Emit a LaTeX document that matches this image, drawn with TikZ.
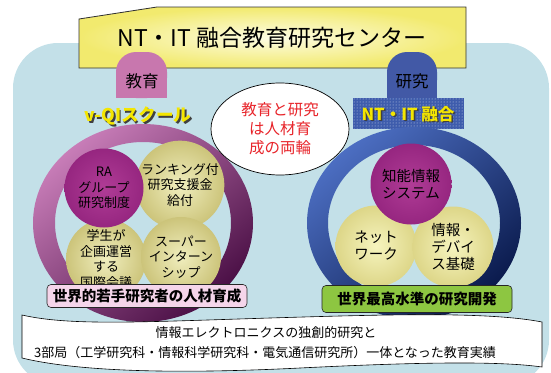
\documentclass[tikz,border=0pt]{standalone}
\usepackage{fontspec}
\setmainfont{Noto Sans CJK JP}
\usetikzlibrary{patterns,shapes.geometric}
\definecolor{bgblue}{HTML}{C3E0E8}
\definecolor{banY}{HTML}{F2EA6E}
\definecolor{banW}{HTML}{FDFCE4}
\definecolor{tabpink}{HTML}{C877AE}
\definecolor{tabblue}{HTML}{4259A6}
\definecolor{ringPa}{HTML}{C87DB8}
\definecolor{ringPb}{HTML}{4A0F45}
\definecolor{ringBa}{HTML}{4C6EC2}
\definecolor{ringBb}{HTML}{0A1A4C}
\definecolor{magA}{HTML}{B03C96}
\definecolor{magB}{HTML}{962680}
\definecolor{yelA}{HTML}{F0EEBE}
\definecolor{yelB}{HTML}{CCC47A}
\definecolor{yelC}{HTML}{F6F4BE}
\definecolor{yelD}{HTML}{DDD688}
\definecolor{lblpink}{HTML}{F5D5EA}
\definecolor{lblgreen}{HTML}{8DC641}
\definecolor{redtxt}{HTML}{E8242A}
\definecolor{qyellow}{HTML}{F4E600}
\definecolor{ntblue}{HTML}{3E5CAC}
\begin{document}
\begin{tikzpicture}[x=1pt,y=-1pt,
  every node/.style={inner sep=0pt, align=center},
  lball/.style={circle, minimum size=80pt, shade, inner color=yelA, outer color=yelB,
    font=\fontsize{13}{15.5}\selectfont},
  rball/.style={circle, minimum size=81pt, shade, inner color=yelC, outer color=yelD,
    font=\fontsize{14.5}{17}\selectfont},
  mball/.style={circle, minimum size=79pt, shade, inner color=magA, outer color=magB},
  tabtext/.style={font=\fontsize{16.5}{18}\selectfont},
  shadowtxt/.style={font=\bfseries\fontsize{17.5}{19}\selectfont, text=black!75},
  yeltxt/.style={font=\bfseries\fontsize{17.5}{19}\selectfont, text=qyellow},
  lblbox/.style={draw=black!85, line width=0.6pt, rounded corners=4pt,
    font=\bfseries\fontsize{14.5}{16}\selectfont}
]
\useasboundingbox (0,0) rectangle (551,372);
% background
\fill[bgblue, rounded corners=45pt] (13,43) rectangle (549,385);
% banner
\shade[draw=black!80, line width=0.8pt, inner color=banW, outer color=banY]
  (79,19) -- (157,7) -- (466,7) -- (466,68) -- (79,68) -- cycle;
\node[font=\fontsize{23}{25}\selectfont] (title) at (272,38) {NT・IT 融合教育研究センター};
% tabs
\fill[tabpink, rounded corners=20pt] (116,52) rectangle (167,98);
\fill[tabpink] (116,76) rectangle (167,98);
\node[tabtext] (kyoiku) at (142,81) {教育};
\fill[tabblue, rounded corners=20pt] (387,52) rectangle (437,100);
\fill[tabblue] (387,76) rectangle (437,100);
\node[tabtext] (kenkyu) at (412,81) {研究};
% v-QI school
\node[shadowtxt] (qis) at (139.5,117.5) {v-QIスクール};
\node[yeltxt] (qi) at (138,116) {v-QIスクール};
% NT-IT fusion box
\fill[ntblue] (353,98) rectangle (464,129);
\fill[pattern=dots, pattern color=white!75!ntblue] (353,98) rectangle (464,129);
\node[shadowtxt, font=\bfseries\fontsize{16.5}{18}\selectfont] (nts) at (409.5,115.5) {NT・IT 融合};
\node[yeltxt, font=\bfseries\fontsize{16.5}{18}\selectfont] (nt) at (408,114) {NT・IT 融合};
% rings
\shade[even odd rule, top color=ringPa, bottom color=ringPb, shading angle=40]
  (143,223) ellipse [x radius=110pt, y radius=99pt]
  (143,223) ellipse [x radius=88pt, y radius=81pt];
\shade[even odd rule, top color=ringBa, bottom color=ringBb, shading angle=40]
  (414,223) ellipse [x radius=107pt, y radius=96pt]
  (414,223) ellipse [x radius=86pt, y radius=78pt];
% left balls
\node[lball] (rank) at (180,185) {ランキング付\\研究支援金\\給付};
\node[lball] (gaku) at (106,259) {学生が\\企画運営\\する\\国際会議};
\node[lball] (super) at (181,257) {スーパー\\インターン\\シップ};
\node[mball, font=\fontsize{13}{15.5}\selectfont] (ra) at (104,188) {RA\\グループ\\研究制度};
% right balls
\node[rball] (net) at (376,246) {ネット\\ワーク};
\node[rball] (dev) at (453,247) {情報・\\デバイ\\ス基礎};
\node[mball, minimum size=81pt, font=\fontsize{14.5}{17}\selectfont] (chino) at (411,184) {知能情報\\システム};
% speech ellipse
\node[ellipse, draw=black, line width=0.7pt, fill=white, minimum width=138pt, minimum height=92pt,
  text=redtxt, font=\fontsize{15.5}{19}\selectfont] (wa) at (280,129) {教育と研究\\は人材育\\成の両輪};
% scroll
\draw[fill=white, line width=0.6pt]
  (22,315) .. controls (70,326) and (140,322) .. (270,318)
  .. controls (400,314) and (490,312) .. (542,322) -- (542,367)
  .. controls (500,361) and (420,362) .. (300,368)
  .. controls (180,374) and (80,372) .. (22,358) -- cycle;
\node[font=\fontsize{13}{15}\selectfont] (s1) at (266,333) {情報エレクトロニクスの独創的研究と};
\node[font=\fontsize{13}{15}\selectfont] (s2) at (265,353) {3部局（工学研究科・情報科学研究科・電気通信研究所）一体となった教育実績};
% label boxes
\node[lblbox, fill=lblpink, minimum width=200pt, minimum height=23pt] (lbl1) at (147,296) {世界的若手研究者の人材育成};
\node[lblbox, fill=lblgreen, minimum width=190pt, minimum height=27pt] (lbl2) at (417,299) {世界最高水準の研究開発};
\end{tikzpicture}
\end{document}
